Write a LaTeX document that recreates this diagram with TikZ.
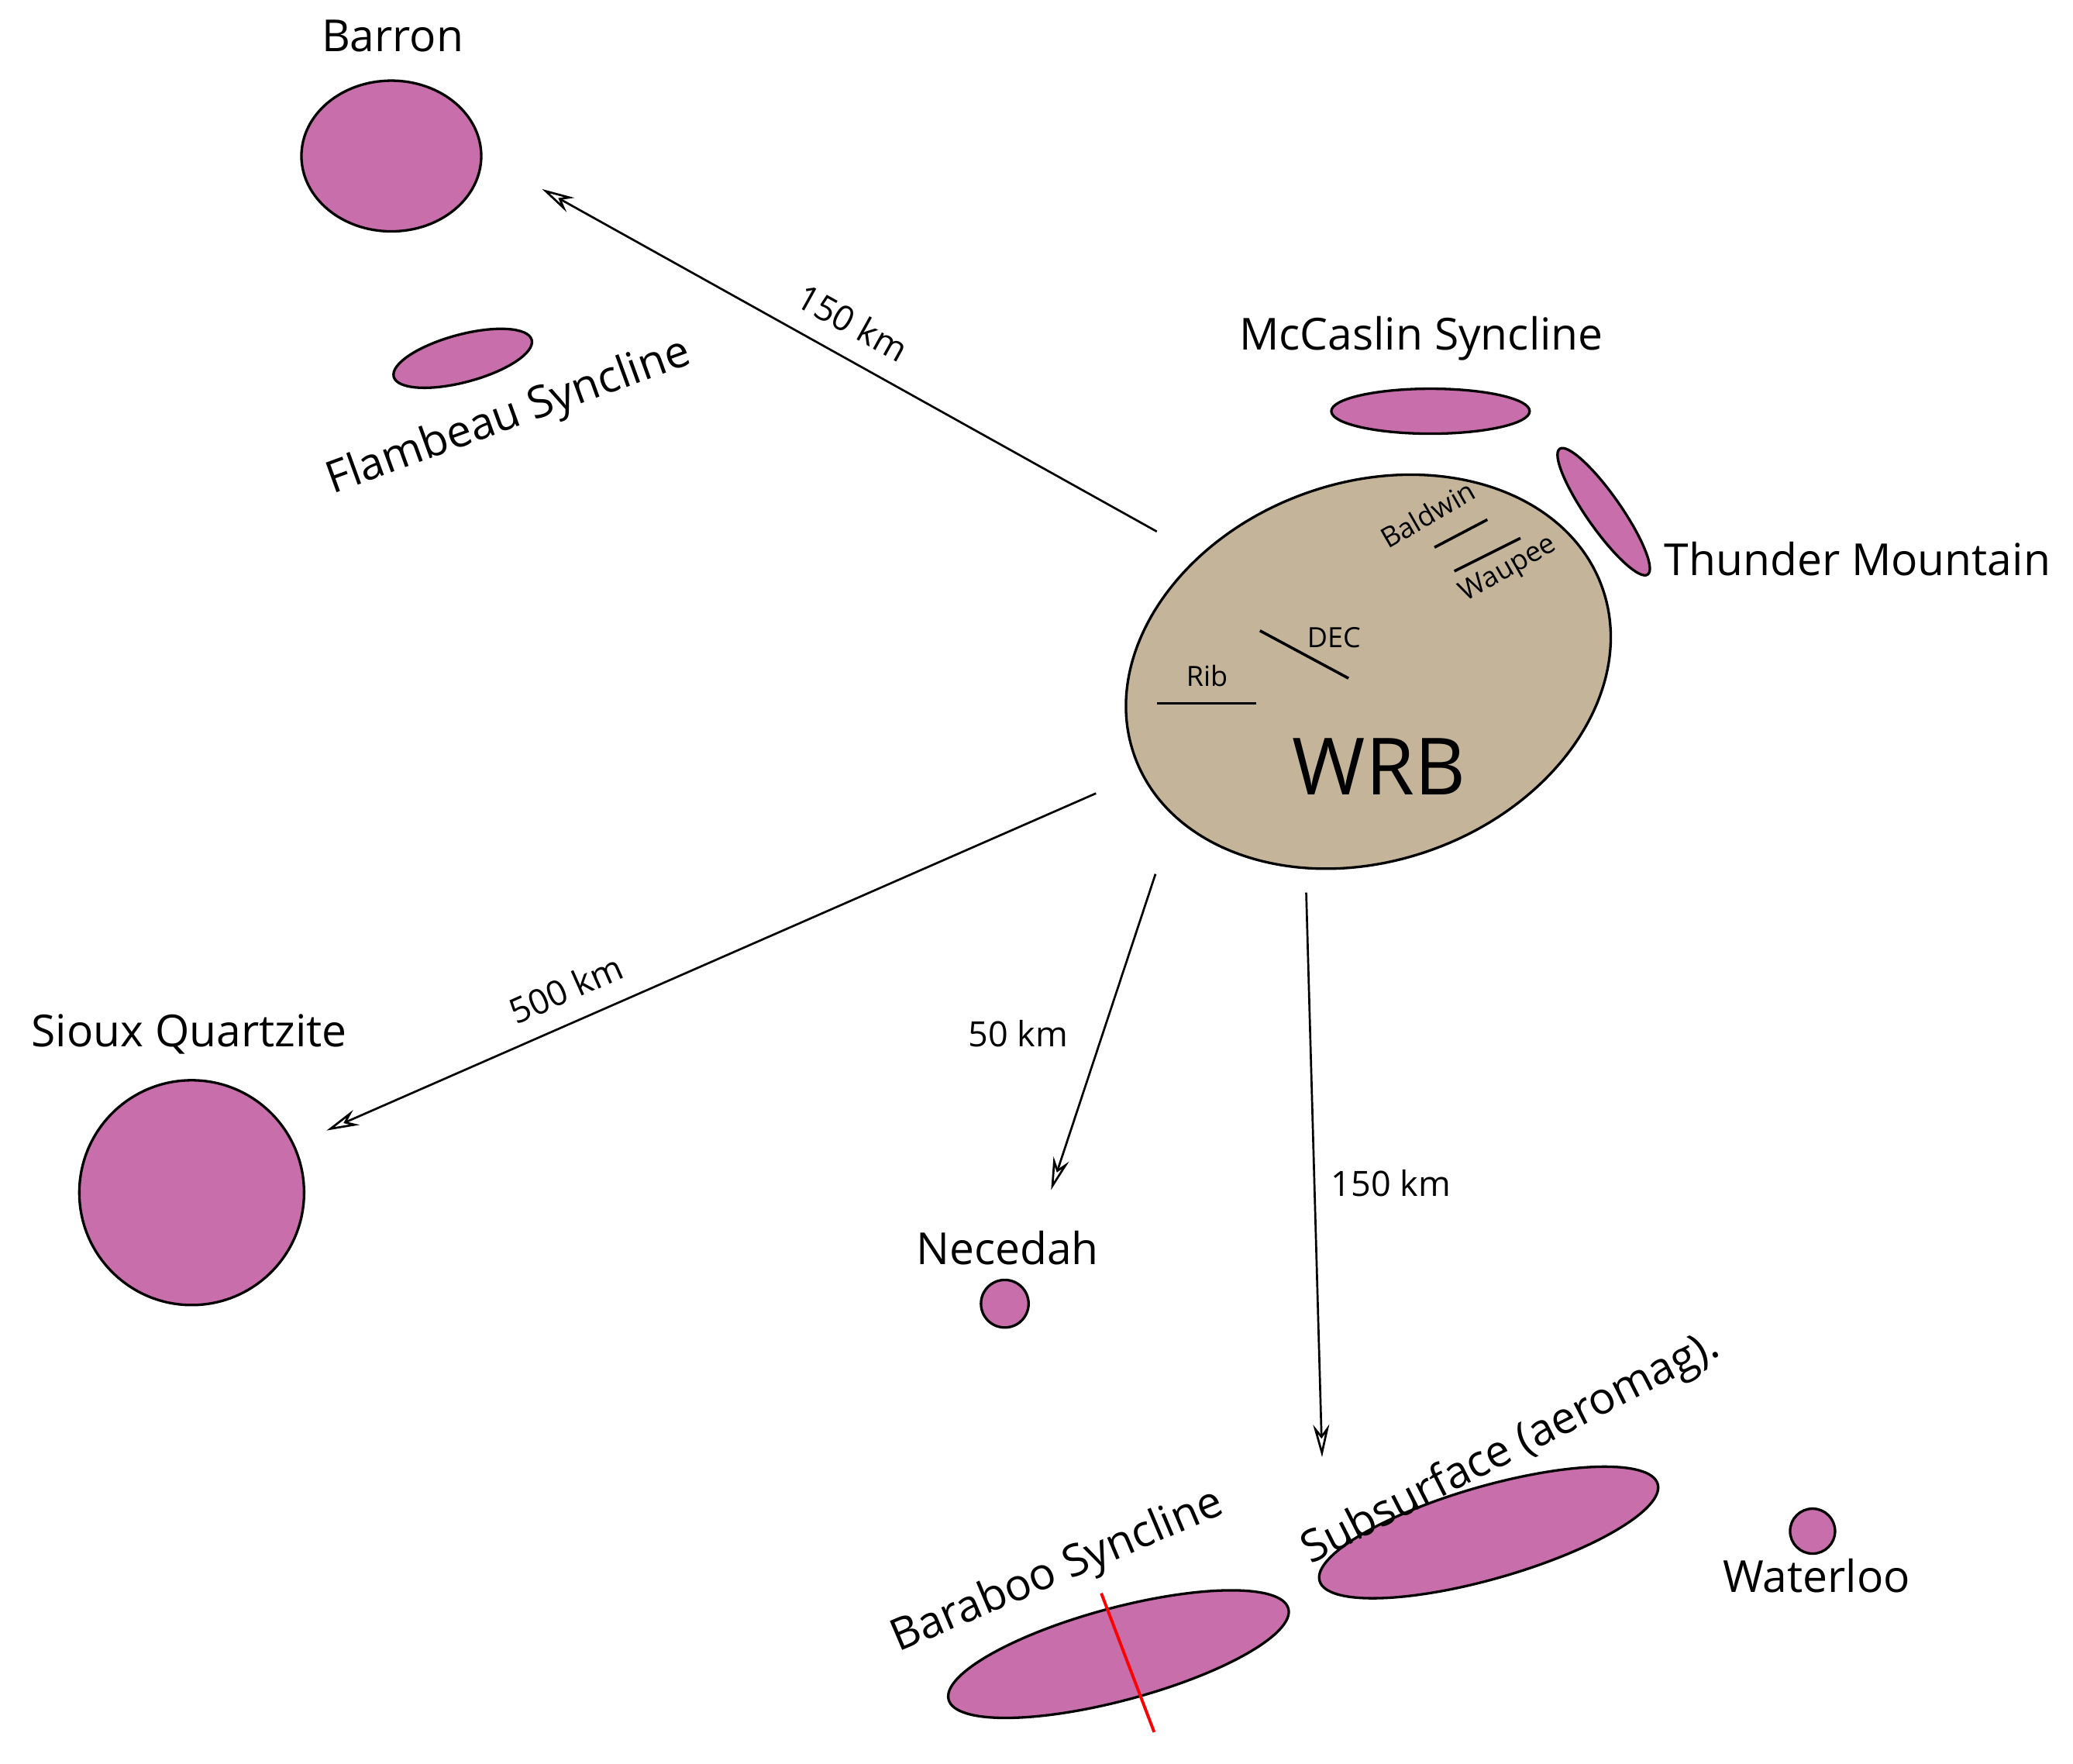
\documentclass[tikz,border=0pt]{standalone}
\usepackage{fontspec}
\setmainfont{Open Sans}
\usetikzlibrary{arrows.meta}
\definecolor{mag}{HTML}{C86EAB}
\definecolor{tan}{HTML}{C4B59A}
\begin{document}
\begin{tikzpicture}[x=0.02cm,y=-0.02cm,
  body/.style={draw=black,line width=1.1pt,fill=mag},
  lab/.style={font=\fontsize{19}{22}\selectfont,inner sep=0pt},
  dist/.style={font=\fontsize{15}{18}\selectfont,inner sep=0pt},
  small/.style={font=\fontsize{12}{14}\selectfont,inner sep=0pt},
  arr/.style={line width=0.9pt,-{Stealth[open,length=14pt,width=7pt]}},
  seg/.style={line width=1.2pt}]
\useasboundingbox (0,0) rectangle (1568,1334);
% WRB
\draw[body,fill=tan] (1035,508) ellipse [x radius=188,y radius=143,rotate=20];
\node[font=\fontsize{34}{38}\selectfont,inner sep=0pt] (wrbt) at (1043,580) {WRB};
\coordinate (b1) at (1085,414); \coordinate (b2) at (1125,393);
\coordinate (w1) at (1100,432); \coordinate (w2) at (1150,407);
\coordinate (d1) at (953,477); \coordinate (d2) at (1020,513);
\coordinate (r1) at (875,532); \coordinate (r2) at (950,532);
\draw[seg] (b1)--(b2); \draw[seg] (w1)--(w2); \draw[seg] (d1)--(d2); \draw[seg] (r1)--(r2);
\node[small,rotate=30] (bal) at (1080,389) {Baldwin};
\node[small,rotate=30] (wau) at (1141,431) {Waupee};
\node[small] (dec) at (1009,482) {DEC};
\node[small] (rib) at (913,511) {Rib};
% bodies
\draw[body] (296,118) ellipse [x radius=68,y radius=57];
\node[lab] (barron) at (297,27) {Barron};
\draw[body] (350,271) ellipse [x radius=54,y radius=18,rotate=15];
\node[lab,rotate=20] (flam) at (385,316) {Flambeau Syncline};
\draw[body] (1082,311) ellipse [x radius=75,y radius=17];
\node[lab] (mcc) at (1075,256) {McCaslin Syncline};
\draw[body] (1213,387) ellipse [x radius=58,y radius=13,rotate=-55];
\node[lab] (thu) at (1405,423) {Thunder Mountain};
\draw[body] (145,902) circle (85);
\node[lab] (sioux) at (143,782) {Sioux Quartzite};
\draw[body] (760,986) circle (18);
\node[lab] (nec) at (762,944) {Necedah};
\draw[body] (1126,1159) ellipse [x radius=133,y radius=35,rotate=16];
\node[lab,rotate=27] (sub) at (1143,1096) {Subsurface (aeromag).};
\draw[body] (846,1251) ellipse [x radius=133,y radius=35,rotate=15];
\draw[red,line width=1.3pt] (833,1205)--(873,1310);
\node[lab,rotate=23] (bar) at (800,1189) {Baraboo Syncline};
\draw[body] (1371,1158) circle (17);
\node[lab] (wat) at (1374,1192) {Waterloo};
% arrows
\coordinate (a1s) at (875,402); \coordinate (a1e) at (410,143);
\coordinate (a2s) at (829,600); \coordinate (a2e) at (247,855);
\coordinate (a3s) at (874,661); \coordinate (a3e) at (795,900);
\coordinate (a4s) at (988,675); \coordinate (a4e) at (1000,1102);
\draw[arr] (a1s)--(a1e); \draw[arr] (a2s)--(a2e); \draw[arr] (a3s)--(a3e); \draw[arr] (a4s)--(a4e);
\node[dist,rotate=-29] (d150a) at (645,244) {150 km};
\node[dist,rotate=24] (d500) at (428,748) {500 km};
\node[dist] (d50) at (770,782) {50 km};
\node[dist] (d150b) at (1052,895) {150 km};
\end{tikzpicture}
\end{document}
